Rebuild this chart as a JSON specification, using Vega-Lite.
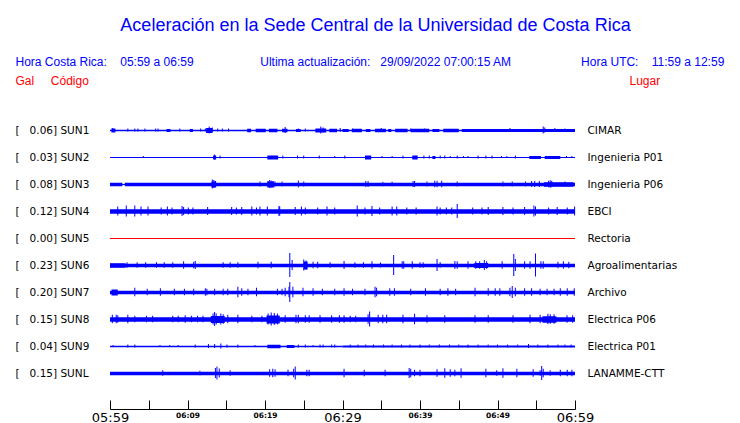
{
  "$schema": "https://vega.github.io/schema/vega-lite/v6.json",
  "autosize": "none",
  "width": 465,
  "height": 297,
  "padding": {"left": 110, "top": 103, "right": 165, "bottom": 23},
  "background": "white",
  "config": {"view": {"stroke": null}},
  "title": {
    "text": "Aceleración en la Sede Central de la Universidad de Costa Rica",
    "font": "Liberation Sans",
    "fontSize": 18,
    "fontWeight": "normal",
    "color": "#0000ff",
    "anchor": "middle",
    "frame": "group",
    "dx": 33,
    "offset": 20
  },
  "datasets": {
    "envelope": [
      {"s":"SUN1","t0":0,"t1":60,"amp":1.5},{"s":"SUN1","t0":0.2,"t1":0.7,"amp":4},{"s":"SUN1","t0":7.3,"t1":7.8,"amp":3},{"s":"SUN1","t0":10.3,"t1":10.7,"amp":3},{"s":"SUN1","t0":12.4,"t1":13.2,"amp":5},{"s":"SUN1","t0":17.7,"t1":18.2,"amp":3.5},{"s":"SUN1","t0":18.8,"t1":20.1,"amp":3.5},{"s":"SUN1","t0":20.5,"t1":21.6,"amp":3.5},{"s":"SUN1","t0":22.2,"t1":22.9,"amp":3.5},{"s":"SUN1","t0":24.0,"t1":24.6,"amp":3},{"s":"SUN1","t0":26.5,"t1":27.9,"amp":4},{"s":"SUN1","t0":28.3,"t1":29.3,"amp":3.5},{"s":"SUN1","t0":30.0,"t1":30.8,"amp":3},{"s":"SUN1","t0":31.2,"t1":32.5,"amp":3.5},{"s":"SUN1","t0":33.0,"t1":33.6,"amp":3},{"s":"SUN1","t0":34.2,"t1":35.6,"amp":3.5},{"s":"SUN1","t0":35.9,"t1":36.3,"amp":3},{"s":"SUN1","t0":36.8,"t1":38.4,"amp":3.5},{"s":"SUN1","t0":38.8,"t1":41.2,"amp":3.5},{"s":"SUN1","t0":41.6,"t1":42.5,"amp":3},{"s":"SUN1","t0":43.0,"t1":45.0,"amp":3.5},{"s":"SUN1","t0":45.4,"t1":60,"amp":3},
      {"s":"SUN2","t0":0,"t1":60,"amp":1},{"s":"SUN2","t0":13.3,"t1":13.7,"amp":4},{"s":"SUN2","t0":20.3,"t1":21.7,"amp":4},{"s":"SUN2","t0":32.9,"t1":33.7,"amp":4},{"s":"SUN2","t0":39.0,"t1":39.7,"amp":4},{"s":"SUN2","t0":41.6,"t1":42.0,"amp":3},{"s":"SUN2","t0":54.1,"t1":55.6,"amp":3},{"s":"SUN2","t0":56.1,"t1":58.1,"amp":3},
      {"s":"SUN3","t0":0,"t1":60,"amp":1},{"s":"SUN3","t0":0,"t1":1.6,"amp":3.5},{"s":"SUN3","t0":1.9,"t1":60,"amp":3.5},{"s":"SUN3","t0":56,"t1":59.8,"amp":4.5},{"s":"SUN3","t0":20.3,"t1":21.2,"amp":6},{"s":"SUN3","t0":13.1,"t1":13.7,"amp":6},
      {"s":"SUN4","t0":0,"t1":60,"amp":4.5},
      {"s":"SUN5","t0":0,"t1":60,"amp":1},
      {"s":"SUN6","t0":0,"t1":60,"amp":3.7},{"s":"SUN6","t0":0,"t1":2,"amp":4.5},{"s":"SUN6","t0":47,"t1":48.8,"amp":5},{"s":"SUN6","t0":25,"t1":25.5,"amp":8},
      {"s":"SUN7","t0":0,"t1":60,"amp":3.7},{"s":"SUN7","t0":0.2,"t1":1.0,"amp":6},
      {"s":"SUN8","t0":0,"t1":60,"amp":4.5},{"s":"SUN8","t0":13.0,"t1":14.8,"amp":7},{"s":"SUN8","t0":20.2,"t1":21.9,"amp":8},{"s":"SUN8","t0":55.8,"t1":57.6,"amp":6.5},
      {"s":"SUN9","t0":0,"t1":30,"amp":1.3},{"s":"SUN9","t0":30,"t1":60,"amp":2},{"s":"SUN9","t0":20.3,"t1":22.0,"amp":3.5},{"s":"SUN9","t0":22.8,"t1":23.8,"amp":3},
      {"s":"SUNL","t0":0,"t1":60,"amp":3.7}
    ],
    "spikes": [
      {"s":"SUN1","t":0.3,"amp":4},{"s":"SUN1","t":2.3,"amp":3},{"s":"SUN1","t":3.2,"amp":3},{"s":"SUN1","t":3.6,"amp":3},{"s":"SUN1","t":4.5,"amp":3},{"s":"SUN1","t":5.9,"amp":3},{"s":"SUN1","t":6.2,"amp":3},{"s":"SUN1","t":9.0,"amp":3},{"s":"SUN1","t":11.7,"amp":3},{"s":"SUN1","t":12.3,"amp":3},{"s":"SUN1","t":12.8,"amp":7},{"s":"SUN1","t":13.2,"amp":5},{"s":"SUN1","t":13.9,"amp":3},{"s":"SUN1","t":14.5,"amp":3},{"s":"SUN1","t":15.3,"amp":3},{"s":"SUN1","t":22.6,"amp":6},{"s":"SUN1","t":24.3,"amp":3},{"s":"SUN1","t":25.2,"amp":3},{"s":"SUN1","t":27.2,"amp":7},{"s":"SUN1","t":27.5,"amp":5},{"s":"SUN1","t":29.7,"amp":4},{"s":"SUN1","t":31.3,"amp":3},{"s":"SUN1","t":35.0,"amp":4},{"s":"SUN1","t":38.8,"amp":3},{"s":"SUN1","t":40.6,"amp":3},{"s":"SUN1","t":51.6,"amp":4},{"s":"SUN1","t":55.9,"amp":7},{"s":"SUN1","t":56.1,"amp":5},{"s":"SUN1","t":57.4,"amp":4},{"s":"SUN1","t":58.7,"amp":3},
      {"s":"SUN2","t":4.3,"amp":2},{"s":"SUN2","t":13.5,"amp":5},{"s":"SUN2","t":14.2,"amp":3},{"s":"SUN2","t":22.3,"amp":3},{"s":"SUN2","t":24.2,"amp":3},{"s":"SUN2","t":25.0,"amp":3},{"s":"SUN2","t":27.0,"amp":3},{"s":"SUN2","t":29.0,"amp":2},{"s":"SUN2","t":30.3,"amp":3},{"s":"SUN2","t":35.1,"amp":2},{"s":"SUN2","t":36.4,"amp":2},{"s":"SUN2","t":37.8,"amp":3},{"s":"SUN2","t":40.5,"amp":3},{"s":"SUN2","t":41.2,"amp":3},{"s":"SUN2","t":42.6,"amp":3},{"s":"SUN2","t":43.2,"amp":3},{"s":"SUN2","t":43.9,"amp":2},{"s":"SUN2","t":44.8,"amp":3},{"s":"SUN2","t":45.6,"amp":2},{"s":"SUN2","t":46.2,"amp":2},{"s":"SUN2","t":47.5,"amp":3},{"s":"SUN2","t":48.5,"amp":3},{"s":"SUN2","t":49.3,"amp":3},{"s":"SUN2","t":50.5,"amp":2},{"s":"SUN2","t":51.2,"amp":2},{"s":"SUN2","t":52.3,"amp":3},{"s":"SUN2","t":58.9,"amp":2},{"s":"SUN2","t":59.6,"amp":2},
      {"s":"SUN3","t":13.2,"amp":9},{"s":"SUN3","t":13.4,"amp":8},{"s":"SUN3","t":13.6,"amp":6},{"s":"SUN3","t":19.35,"amp":5},{"s":"SUN3","t":20.4,"amp":6},{"s":"SUN3","t":20.6,"amp":8},{"s":"SUN3","t":20.8,"amp":7},{"s":"SUN3","t":21.0,"amp":6},{"s":"SUN3","t":21.3,"amp":5},{"s":"SUN3","t":22.2,"amp":5},{"s":"SUN3","t":24.3,"amp":7},{"s":"SUN3","t":25.0,"amp":5},{"s":"SUN3","t":33.0,"amp":6},{"s":"SUN3","t":33.3,"amp":6},{"s":"SUN3","t":35.2,"amp":4.5},{"s":"SUN3","t":36.4,"amp":4.5},{"s":"SUN3","t":39.1,"amp":6},{"s":"SUN3","t":39.3,"amp":6},{"s":"SUN3","t":40.9,"amp":5},{"s":"SUN3","t":41.9,"amp":6.5},{"s":"SUN3","t":42.2,"amp":6.5},{"s":"SUN3","t":42.8,"amp":6.5},{"s":"SUN3","t":44.8,"amp":5},{"s":"SUN3","t":50.7,"amp":5},{"s":"SUN3","t":51.9,"amp":5},{"s":"SUN3","t":53.6,"amp":5},{"s":"SUN3","t":54.4,"amp":6},{"s":"SUN3","t":54.8,"amp":6},{"s":"SUN3","t":55.4,"amp":6},{"s":"SUN3","t":56.6,"amp":6.5},{"s":"SUN3","t":56.8,"amp":7.5},{"s":"SUN3","t":57.0,"amp":6.5},{"s":"SUN3","t":58.7,"amp":5},
      {"s":"SUN4","t":1.0,"amp":9},{"s":"SUN4","t":2.1,"amp":11},{"s":"SUN4","t":3.2,"amp":11},{"s":"SUN4","t":4.0,"amp":9},{"s":"SUN4","t":4.9,"amp":9},{"s":"SUN4","t":6.6,"amp":7},{"s":"SUN4","t":7.4,"amp":9},{"s":"SUN4","t":8.0,"amp":7},{"s":"SUN4","t":9.3,"amp":10},{"s":"SUN4","t":9.5,"amp":8},{"s":"SUN4","t":10.1,"amp":7},{"s":"SUN4","t":10.7,"amp":7},{"s":"SUN4","t":12.6,"amp":8},{"s":"SUN4","t":15.7,"amp":8},{"s":"SUN4","t":16.3,"amp":7},{"s":"SUN4","t":17.0,"amp":8},{"s":"SUN4","t":18.3,"amp":9},{"s":"SUN4","t":18.9,"amp":7},{"s":"SUN4","t":19.35,"amp":9},{"s":"SUN4","t":20.3,"amp":9},{"s":"SUN4","t":21.8,"amp":10},{"s":"SUN4","t":21.9,"amp":9},{"s":"SUN4","t":23.9,"amp":8},{"s":"SUN4","t":24.7,"amp":9},{"s":"SUN4","t":25.2,"amp":7},{"s":"SUN4","t":26.8,"amp":7},{"s":"SUN4","t":28.0,"amp":9},{"s":"SUN4","t":29.0,"amp":7},{"s":"SUN4","t":31.9,"amp":11},{"s":"SUN4","t":32.9,"amp":7},{"s":"SUN4","t":33.8,"amp":10},{"s":"SUN4","t":34.8,"amp":7},{"s":"SUN4","t":36.4,"amp":9},{"s":"SUN4","t":37.0,"amp":9},{"s":"SUN4","t":38.3,"amp":7},{"s":"SUN4","t":39.5,"amp":7},{"s":"SUN4","t":42.2,"amp":9},{"s":"SUN4","t":42.6,"amp":7},{"s":"SUN4","t":43.4,"amp":7},{"s":"SUN4","t":44.1,"amp":7},{"s":"SUN4","t":44.8,"amp":14},{"s":"SUN4","t":46.8,"amp":7},{"s":"SUN4","t":48.0,"amp":7},{"s":"SUN4","t":48.8,"amp":8},{"s":"SUN4","t":50.7,"amp":8},{"s":"SUN4","t":52.0,"amp":7},{"s":"SUN4","t":53.5,"amp":8},{"s":"SUN4","t":54.7,"amp":11},{"s":"SUN4","t":54.9,"amp":9},{"s":"SUN4","t":56.6,"amp":7},{"s":"SUN4","t":57.7,"amp":8},{"s":"SUN4","t":59.0,"amp":7},{"s":"SUN4","t":59.95,"amp":9},
      {"s":"SUN6","t":2.2,"amp":5.5},{"s":"SUN6","t":3.5,"amp":5.5},{"s":"SUN6","t":4.6,"amp":5.5},{"s":"SUN6","t":6.0,"amp":5.5},{"s":"SUN6","t":7.0,"amp":5.5},{"s":"SUN6","t":8.1,"amp":5.5},{"s":"SUN6","t":9.5,"amp":7.5},{"s":"SUN6","t":10.8,"amp":6.5},{"s":"SUN6","t":11.0,"amp":8},{"s":"SUN6","t":14.6,"amp":5.5},{"s":"SUN6","t":15.5,"amp":5.5},{"s":"SUN6","t":16.5,"amp":5.5},{"s":"SUN6","t":19.1,"amp":6.5},{"s":"SUN6","t":20.8,"amp":6.5},{"s":"SUN6","t":23.2,"amp":24},{"s":"SUN6","t":23.5,"amp":10},{"s":"SUN6","t":25.0,"amp":11},{"s":"SUN6","t":25.3,"amp":9},{"s":"SUN6","t":26.2,"amp":6.5},{"s":"SUN6","t":26.8,"amp":6.5},{"s":"SUN6","t":28.4,"amp":5.5},{"s":"SUN6","t":30.2,"amp":8},{"s":"SUN6","t":31.6,"amp":5.5},{"s":"SUN6","t":32.7,"amp":5.5},{"s":"SUN6","t":33.8,"amp":7.5},{"s":"SUN6","t":34.9,"amp":5},{"s":"SUN6","t":36.6,"amp":20},{"s":"SUN6","t":37.7,"amp":7.5},{"s":"SUN6","t":37.9,"amp":7.5},{"s":"SUN6","t":39.0,"amp":7.5},{"s":"SUN6","t":40.0,"amp":5.5},{"s":"SUN6","t":40.4,"amp":5.5},{"s":"SUN6","t":42.2,"amp":12},{"s":"SUN6","t":42.6,"amp":5.5},{"s":"SUN6","t":44.5,"amp":8},{"s":"SUN6","t":44.8,"amp":7.5},{"s":"SUN6","t":46.2,"amp":7.5},{"s":"SUN6","t":47.2,"amp":7.5},{"s":"SUN6","t":47.7,"amp":7.5},{"s":"SUN6","t":48.3,"amp":10},{"s":"SUN6","t":48.6,"amp":7.5},{"s":"SUN6","t":50.6,"amp":7.5},{"s":"SUN6","t":52.1,"amp":22},{"s":"SUN6","t":52.3,"amp":12},{"s":"SUN6","t":53.5,"amp":7.5},{"s":"SUN6","t":54.2,"amp":7.5},{"s":"SUN6","t":54.9,"amp":23},{"s":"SUN6","t":55.6,"amp":7.5},{"s":"SUN6","t":55.9,"amp":7.5},{"s":"SUN6","t":57.8,"amp":6.5},{"s":"SUN6","t":58.5,"amp":7.5},{"s":"SUN6","t":59.2,"amp":6.5},
      {"s":"SUN7","t":3.2,"amp":8.5},{"s":"SUN7","t":4.8,"amp":6.5},{"s":"SUN7","t":6.5,"amp":7.5},{"s":"SUN7","t":8.3,"amp":6.5},{"s":"SUN7","t":9.6,"amp":6.5},{"s":"SUN7","t":10.8,"amp":6.5},{"s":"SUN7","t":12.3,"amp":7.5},{"s":"SUN7","t":12.5,"amp":6.5},{"s":"SUN7","t":13.5,"amp":6.5},{"s":"SUN7","t":14.6,"amp":6.5},{"s":"SUN7","t":15.2,"amp":6.5},{"s":"SUN7","t":16.5,"amp":10.5},{"s":"SUN7","t":17.0,"amp":7.5},{"s":"SUN7","t":17.8,"amp":6.5},{"s":"SUN7","t":18.9,"amp":8.5},{"s":"SUN7","t":21.6,"amp":6.5},{"s":"SUN7","t":22.2,"amp":6.5},{"s":"SUN7","t":22.6,"amp":8.5},{"s":"SUN7","t":23.1,"amp":10.5},{"s":"SUN7","t":23.2,"amp":20},{"s":"SUN7","t":23.6,"amp":10.5},{"s":"SUN7","t":24.9,"amp":8.5},{"s":"SUN7","t":26.2,"amp":7.5},{"s":"SUN7","t":27.4,"amp":6.5},{"s":"SUN7","t":29.0,"amp":6.5},{"s":"SUN7","t":30.2,"amp":7.5},{"s":"SUN7","t":31.3,"amp":6.5},{"s":"SUN7","t":32.9,"amp":6.5},{"s":"SUN7","t":34.2,"amp":10.5},{"s":"SUN7","t":34.4,"amp":8.5},{"s":"SUN7","t":36.1,"amp":7.5},{"s":"SUN7","t":36.7,"amp":7.5},{"s":"SUN7","t":38.8,"amp":6.5},{"s":"SUN7","t":40.7,"amp":7.5},{"s":"SUN7","t":42.6,"amp":6.5},{"s":"SUN7","t":43.6,"amp":7.5},{"s":"SUN7","t":44.6,"amp":6.5},{"s":"SUN7","t":47.1,"amp":8.5},{"s":"SUN7","t":48.8,"amp":7.5},{"s":"SUN7","t":49.7,"amp":7.5},{"s":"SUN7","t":50.3,"amp":7.5},{"s":"SUN7","t":51.6,"amp":8.5},{"s":"SUN7","t":51.9,"amp":12},{"s":"SUN7","t":52.3,"amp":8.5},{"s":"SUN7","t":53.5,"amp":7.5},{"s":"SUN7","t":54.4,"amp":7.5},{"s":"SUN7","t":55.5,"amp":6.5},{"s":"SUN7","t":56.4,"amp":6.5},{"s":"SUN7","t":57.3,"amp":6.5},{"s":"SUN7","t":58.1,"amp":7.5},{"s":"SUN7","t":59.0,"amp":7.5},{"s":"SUN7","t":59.9,"amp":7.5},
      {"s":"SUN8","t":0.3,"amp":8.5},{"s":"SUN8","t":0.8,"amp":8.5},{"s":"SUN8","t":1.0,"amp":7.5},{"s":"SUN8","t":2.3,"amp":8.5},{"s":"SUN8","t":3.2,"amp":6.5},{"s":"SUN8","t":4.7,"amp":6.5},{"s":"SUN8","t":5.5,"amp":6.5},{"s":"SUN8","t":8.1,"amp":6.5},{"s":"SUN8","t":8.8,"amp":6.5},{"s":"SUN8","t":9.7,"amp":7.5},{"s":"SUN8","t":10.5,"amp":6.5},{"s":"SUN8","t":11.3,"amp":6.5},{"s":"SUN8","t":12.0,"amp":6.5},{"s":"SUN8","t":13.3,"amp":11},{"s":"SUN8","t":13.5,"amp":14},{"s":"SUN8","t":13.7,"amp":11},{"s":"SUN8","t":14.3,"amp":11},{"s":"SUN8","t":14.6,"amp":9.5},{"s":"SUN8","t":15.2,"amp":8.5},{"s":"SUN8","t":16.5,"amp":8.5},{"s":"SUN8","t":18.3,"amp":6.5},{"s":"SUN8","t":19.6,"amp":6.5},{"s":"SUN8","t":20.4,"amp":11},{"s":"SUN8","t":20.8,"amp":13},{"s":"SUN8","t":21.2,"amp":12},{"s":"SUN8","t":21.6,"amp":11},{"s":"SUN8","t":22.6,"amp":7.5},{"s":"SUN8","t":24.0,"amp":8.5},{"s":"SUN8","t":24.3,"amp":8.5},{"s":"SUN8","t":25.2,"amp":7.5},{"s":"SUN8","t":25.7,"amp":7.5},{"s":"SUN8","t":27.1,"amp":7.5},{"s":"SUN8","t":28.6,"amp":7.5},{"s":"SUN8","t":29.6,"amp":7.5},{"s":"SUN8","t":30.2,"amp":7.5},{"s":"SUN8","t":31.0,"amp":6.5},{"s":"SUN8","t":31.7,"amp":6.5},{"s":"SUN8","t":33.3,"amp":9.5},{"s":"SUN8","t":33.5,"amp":15},{"s":"SUN8","t":34.6,"amp":8.5},{"s":"SUN8","t":35.2,"amp":8.5},{"s":"SUN8","t":35.7,"amp":8.5},{"s":"SUN8","t":37.8,"amp":8.5},{"s":"SUN8","t":39.3,"amp":10.5},{"s":"SUN8","t":40.9,"amp":7.5},{"s":"SUN8","t":43.2,"amp":7.5},{"s":"SUN8","t":47.1,"amp":7.5},{"s":"SUN8","t":48.8,"amp":7.5},{"s":"SUN8","t":52.0,"amp":7.5},{"s":"SUN8","t":54.2,"amp":8.5},{"s":"SUN8","t":55.5,"amp":8.5},{"s":"SUN8","t":56.5,"amp":10.5},{"s":"SUN8","t":56.8,"amp":9.5},{"s":"SUN8","t":57.3,"amp":9.5},{"s":"SUN8","t":58.97,"amp":7.5},{"s":"SUN8","t":59.7,"amp":7.5},
      {"s":"SUN9","t":0.4,"amp":2},{"s":"SUN9","t":2.3,"amp":3},{"s":"SUN9","t":3.2,"amp":3},{"s":"SUN9","t":6.45,"amp":2},{"s":"SUN9","t":7.7,"amp":2},{"s":"SUN9","t":8.8,"amp":2},{"s":"SUN9","t":11.0,"amp":3},{"s":"SUN9","t":12.7,"amp":4},{"s":"SUN9","t":13.5,"amp":4},{"s":"SUN9","t":14.3,"amp":5},{"s":"SUN9","t":15.1,"amp":3},{"s":"SUN9","t":16.5,"amp":3},{"s":"SUN9","t":18.7,"amp":2},{"s":"SUN9","t":24.3,"amp":3},{"s":"SUN9","t":25.2,"amp":3},{"s":"SUN9","t":26.2,"amp":2},{"s":"SUN9","t":27.1,"amp":3},{"s":"SUN9","t":27.5,"amp":3},{"s":"SUN9","t":28.6,"amp":3},{"s":"SUN9","t":29.0,"amp":3},{"s":"SUN9","t":31.0,"amp":3},{"s":"SUN9","t":32.0,"amp":3},{"s":"SUN9","t":33.0,"amp":3},{"s":"SUN9","t":34.0,"amp":3},{"s":"SUN9","t":35.3,"amp":3},{"s":"SUN9","t":36.4,"amp":3},{"s":"SUN9","t":37.6,"amp":3},{"s":"SUN9","t":38.7,"amp":3},{"s":"SUN9","t":40.0,"amp":3},{"s":"SUN9","t":41.2,"amp":3},{"s":"SUN9","t":42.5,"amp":3},{"s":"SUN9","t":43.8,"amp":3},{"s":"SUN9","t":45.0,"amp":3},{"s":"SUN9","t":46.2,"amp":3},{"s":"SUN9","t":47.5,"amp":3},{"s":"SUN9","t":48.8,"amp":3},{"s":"SUN9","t":50.0,"amp":3},{"s":"SUN9","t":51.3,"amp":3},{"s":"SUN9","t":52.6,"amp":3},{"s":"SUN9","t":54.0,"amp":4},{"s":"SUN9","t":55.2,"amp":3},{"s":"SUN9","t":56.5,"amp":3},{"s":"SUN9","t":57.8,"amp":3},{"s":"SUN9","t":58.7,"amp":3},{"s":"SUN9","t":59.5,"amp":3},
      {"s":"SUNL","t":6.8,"amp":5.5},{"s":"SUNL","t":11.6,"amp":4.5},{"s":"SUNL","t":13.6,"amp":10},{"s":"SUNL","t":13.8,"amp":13},{"s":"SUNL","t":14.1,"amp":9},{"s":"SUNL","t":15.5,"amp":5.5},{"s":"SUNL","t":20.6,"amp":7.5},{"s":"SUNL","t":21.0,"amp":8.5},{"s":"SUNL","t":21.3,"amp":7.5},{"s":"SUNL","t":22.97,"amp":6.5},{"s":"SUNL","t":23.7,"amp":8.5},{"s":"SUNL","t":23.9,"amp":13},{"s":"SUNL","t":25.4,"amp":6.5},{"s":"SUNL","t":25.7,"amp":6.5},{"s":"SUNL","t":30.2,"amp":8.5},{"s":"SUNL","t":32.8,"amp":6.5},{"s":"SUNL","t":35.5,"amp":6.5},{"s":"SUNL","t":38.6,"amp":10},{"s":"SUNL","t":38.8,"amp":8.5},{"s":"SUNL","t":39.3,"amp":6.5},{"s":"SUNL","t":40.0,"amp":6.5},{"s":"SUNL","t":42.2,"amp":7.5},{"s":"SUNL","t":43.2,"amp":9.5},{"s":"SUNL","t":43.9,"amp":7.5},{"s":"SUNL","t":44.5,"amp":6.5},{"s":"SUNL","t":45.3,"amp":9.5},{"s":"SUNL","t":48.5,"amp":8.5},{"s":"SUNL","t":49.9,"amp":5.5},{"s":"SUNL","t":50.7,"amp":9.5},{"s":"SUNL","t":52.5,"amp":8.5},{"s":"SUNL","t":54.6,"amp":7.5},{"s":"SUNL","t":55.5,"amp":5.5},{"s":"SUNL","t":55.7,"amp":14},{"s":"SUNL","t":55.9,"amp":8.5},{"s":"SUNL","t":56.8,"amp":5.5},{"s":"SUNL","t":58.1,"amp":6.5},{"s":"SUNL","t":59.0,"amp":6.5},{"s":"SUNL","t":59.6,"amp":6.5}
    ]
  },
  "layer": [
    {
      "data": {"name": "envelope"},
      "mark": {"type": "rule", "strokeCap": "butt", "yOffset": 0.5},
      "encoding": {
        "x": {
          "field": "t0", "type": "quantitative",
          "scale": {"domain": [0, 60], "nice": false, "zero": false},
          "axis": {
            "orient": "bottom",
            "offset": 9,
            "title": null,
            "grid": false,
            "values": [0, 5, 10, 15, 20, 25, 30, 35, 40, 45, 50, 55, 60],
            "labelExpr": "datum.value % 10 != 0 ? '' : (datum.value == 0 ? '05:59' : '06:' + (datum.value < 11 ? '0' : '') + (datum.value - 1))",
            "domainColor": "black",
            "domainWidth": 1,
            "tickColor": "black",
            "tickSize": -9,
            "tickWidth": 1,
            "labelPadding": 11,
            "labelFlush": false,
            "labelOverlap": false,
            "labelColor": "black",
            "labelFont": "DejaVu Sans",
            "labelFontSize": {"condition": {"test": "datum.value % 30 == 0", "value": 13}, "value": 7.5},
            "labelFontWeight": {"condition": {"test": "datum.value % 30 == 0", "value": "normal"}, "value": "bold"},
            "labelBaseline": "top"
          }
        },
        "x2": {"field": "t1"},
        "y": {
          "field": "s", "type": "nominal",
          "scale": {"type": "point", "padding": 1, "domain": ["SUN1","SUN2","SUN3","SUN4","SUN5","SUN6","SUN7","SUN8","SUN9","SUNL"]},
          "axis": {
            "orient": "left",
            "domain": false,
            "ticks": false,
            "grid": false,
            "labelAlign": "left",
            "labelPadding": 95,
            "labelFont": "DejaVu Sans",
            "labelFontSize": 10.5,
            "labelColor": "black",
            "labelExpr": "'[\u00a0\u00a0\u00a0' + (datum.value == 'SUN1' ? '0.06' : datum.value == 'SUN2' ? '0.03' : datum.value == 'SUN3' ? '0.08' : datum.value == 'SUN4' ? '0.12' : datum.value == 'SUN5' ? '0.00' : datum.value == 'SUN6' ? '0.23' : datum.value == 'SUN7' ? '0.20' : datum.value == 'SUN8' ? '0.15' : datum.value == 'SUN9' ? '0.04' : '0.15') + ']\u00a0' + datum.value",
            "title": "Gal\u00a0\u00a0\u00a0\u00a0\u00a0Código",
            "titleAngle": 0,
            "titleX": -95,
            "titleY": -23,
            "titleAlign": "left",
            "titleBaseline": "middle",
            "titleColor": "#ff0000",
            "titleFont": "Liberation Sans",
            "titleFontSize": 12,
            "titleFontWeight": "normal"
          }
        },
        "strokeWidth": {"field": "amp", "type": "quantitative", "scale": {"domain": [0, 30], "range": [0, 30]}, "legend": null},
        "color": {"condition": {"test": "datum.s === 'SUN5'", "value": "#ff0000"}, "value": "#0000ff"}
      }
    },
    {
      "data": {"name": "spikes"},
      "mark": {"type": "tick", "opacity": 1, "thickness": 1},
      "encoding": {
        "x": {
          "field": "t", "type": "quantitative",
          "scale": {"domain": [0, 60], "nice": false, "zero": false},
          "axis": {
            "orient": "top",
            "domain": false,
            "ticks": false,
            "labels": false,
            "grid": false,
            "title": "Hora Costa Rica:\u00a0\u00a0\u00a0\u00a005:59 a 06:59\u00a0\u00a0\u00a0\u00a0\u00a0\u00a0\u00a0\u00a0\u00a0\u00a0\u00a0\u00a0\u00a0\u00a0\u00a0\u00a0\u00a0\u00a0\u00a0\u00a0Ultima actualización:\u00a0\u00a0\u00a029/09/2022 07:00:15 AM\u00a0\u00a0\u00a0\u00a0\u00a0\u00a0\u00a0\u00a0\u00a0\u00a0\u00a0\u00a0\u00a0\u00a0\u00a0\u00a0\u00a0\u00a0\u00a0\u00a0\u00a0Hora UTC:\u00a0\u00a0\u00a0\u00a011:59 a 12:59",
            "titleX": -95,
            "titleY": -42,
            "titleAlign": "left",
            "titleBaseline": "middle",
            "titleColor": "#0000ff",
            "titleFont": "Liberation Sans",
            "titleFontSize": 12,
            "titleFontWeight": "normal"
          }
        },
        "y": {
          "field": "s", "type": "nominal",
          "scale": {"type": "point", "padding": 1, "domain": ["SUN1","SUN2","SUN3","SUN4","SUN5","SUN6","SUN7","SUN8","SUN9","SUNL"]},
          "axis": {
            "orient": "right",
            "domain": false,
            "ticks": false,
            "grid": false,
            "labelAlign": "left",
            "labelPadding": 12,
            "labelFont": "DejaVu Sans",
            "labelFontSize": 10.5,
            "labelColor": "black",
            "labelExpr": "datum.value == 'SUN1' ? 'CIMAR' : datum.value == 'SUN2' ? 'Ingenieria P01' : datum.value == 'SUN3' ? 'Ingenieria P06' : datum.value == 'SUN4' ? 'EBCI' : datum.value == 'SUN5' ? 'Rectoria' : datum.value == 'SUN6' ? 'Agroalimentarias' : datum.value == 'SUN7' ? 'Archivo' : datum.value == 'SUN8' ? 'Electrica P06' : datum.value == 'SUN9' ? 'Electrica P01' : 'LANAMME-CTT'",
            "title": "Lugar",
            "titleAngle": 0,
            "titleX": 54,
            "titleY": -23,
            "titleAlign": "left",
            "titleBaseline": "middle",
            "titleColor": "#ff0000",
            "titleFont": "Liberation Sans",
            "titleFontSize": 12,
            "titleFontWeight": "normal"
          }
        },
        "size": {"field": "amp", "type": "quantitative", "scale": {"domain": [0, 30], "range": [0, 30]}, "legend": null},
        "color": {"value": "#0000ff"}
      }
    }
  ],
  "resolve": {"axis": {"x": "independent", "y": "independent"}}
}
